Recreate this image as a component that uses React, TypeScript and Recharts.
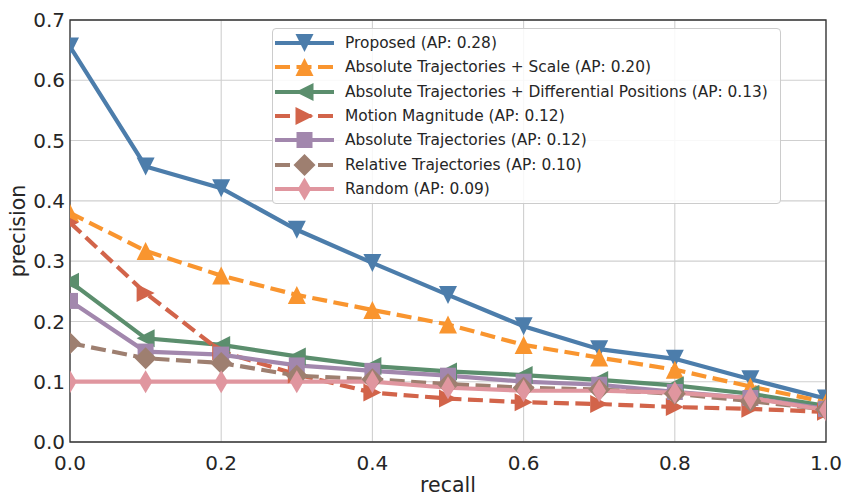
import React from 'react';
import { LineChart, Line, XAxis, YAxis, CartesianGrid, Legend, ReferenceArea } from 'recharts';

const FONT = '"DejaVu Sans", Verdana, sans-serif';

const recall = [0, 0.1, 0.2, 0.3, 0.4, 0.5, 0.6, 0.7, 0.8, 0.9, 1.0];
const proposed = [0.656, 0.457, 0.421, 0.352, 0.297, 0.244, 0.192, 0.154, 0.138, 0.104, 0.072];
const absScale = [0.38, 0.317, 0.276, 0.244, 0.219, 0.195, 0.161, 0.14, 0.12, 0.092, 0.066];
const absDiff = [0.266, 0.172, 0.161, 0.142, 0.126, 0.117, 0.111, 0.103, 0.094, 0.08, 0.06];
const motion = [0.364, 0.247, 0.15, 0.112, 0.082, 0.072, 0.066, 0.063, 0.058, 0.055, 0.05];
const absTraj = [0.234, 0.15, 0.145, 0.127, 0.118, 0.11, 0.1, 0.095, 0.083, 0.073, 0.055];
const relTraj = [0.164, 0.139, 0.131, 0.11, 0.104, 0.096, 0.09, 0.087, 0.08, 0.068, 0.054];
const random = [0.1, 0.1, 0.1, 0.1, 0.1, 0.09, 0.085, 0.085, 0.082, 0.073, 0.053];

const xTicks = [0, 0.2, 0.4, 0.6, 0.8, 1.0];
const yTicks = [0, 0.1, 0.2, 0.3, 0.4, 0.5, 0.6, 0.7];

type MarkerType = 'tdown' | 'tup' | 'tleft' | 'tright' | 'square' | 'diamond' | 'thin';

interface SeriesDef {
  key: string;
  name: string;
  values: number[];
  color: string;
  dash?: string;
  marker: MarkerType;
}

const DASH = '15 6.5';

const seriesDefs: SeriesDef[] = [
  { key: 'proposed', name: 'Proposed (AP: 0.28)', values: proposed, color: '#4c7dab', marker: 'tdown' },
  { key: 'absScale', name: 'Absolute Trajectories + Scale (AP: 0.20)', values: absScale, color: '#f9952f', dash: DASH, marker: 'tup' },
  { key: 'absDiff', name: 'Absolute Trajectories + Differential Positions (AP: 0.13)', values: absDiff, color: '#5b8e6d', marker: 'tleft' },
  { key: 'motion', name: 'Motion Magnitude (AP: 0.12)', values: motion, color: '#d2644a', dash: DASH, marker: 'tright' },
  { key: 'absTraj', name: 'Absolute Trajectories (AP: 0.12)', values: absTraj, color: '#a287ad', marker: 'square' },
  { key: 'relTraj', name: 'Relative Trajectories (AP: 0.10)', values: relTraj, color: '#9e7f70', dash: DASH, marker: 'diamond' },
  { key: 'random', name: 'Random (AP: 0.09)', values: random, color: '#e0969f', marker: 'thin' },
];

const data = recall.map((r, i) => {
  const row: Record<string, number> = { recall: r };
  seriesDefs.forEach((s) => {
    row[s.key] = s.values[i];
  });
  return row;
});

function markerPath(type: MarkerType, cx: number, cy: number): string {
  const s = 9;
  switch (type) {
    case 'tdown':
      return `M${cx - s},${cy - s}L${cx + s},${cy - s}L${cx},${cy + s}Z`;
    case 'tup':
      return `M${cx},${cy - s}L${cx + s},${cy + s}L${cx - s},${cy + s}Z`;
    case 'tleft':
      return `M${cx - s},${cy}L${cx + s},${cy - s}L${cx + s},${cy + s}Z`;
    case 'tright':
      return `M${cx + s},${cy}L${cx - s},${cy - s}L${cx - s},${cy + s}Z`;
    case 'square': {
      const h = 8;
      return `M${cx - h},${cy - h}L${cx + h},${cy - h}L${cx + h},${cy + h}L${cx - h},${cy + h}Z`;
    }
    case 'diamond': {
      const h = 11;
      return `M${cx},${cy - h}L${cx + h},${cy}L${cx},${cy + h}L${cx - h},${cy}Z`;
    }
    case 'thin':
    default: {
      const h = 11.5;
      const w = 6.8;
      return `M${cx},${cy - h}L${cx + w},${cy}L${cx},${cy + h}L${cx - w},${cy}Z`;
    }
  }
}

const LegendBox = () => (
  <div
    style={{
      border: '1px solid #cccccc',
      borderRadius: 4,
      background: 'rgba(255,255,255,0.85)',
      padding: '2px 6px 2px 2px',
      width: 509,
      boxSizing: 'border-box',
      fontFamily: FONT,
      fontSize: 15.4,
      color: '#262626',
    }}
  >
    {seriesDefs.map((s) => (
      <div key={s.key} style={{ display: 'flex', alignItems: 'center', height: 24.3 }}>
        <svg width={60} height={24} style={{ flex: 'none', display: 'block' }}>
          <line x1={0} x2={59} y1={12} y2={12} stroke={s.color} strokeWidth={4} strokeDasharray={s.dash} />
          <path d={markerPath(s.marker, 29.5, 12)} fill={s.color} />
        </svg>
        <span style={{ marginLeft: 10, whiteSpace: 'nowrap', lineHeight: '24px' }}>{s.name}</span>
      </div>
    ))}
  </div>
);

const YLabel = (props: any) => {
  const vb = props.viewBox || { x: 0, y: 20, width: 70, height: 422 };
  const x = vb.x + 25;
  const y = vb.y + vb.height / 2;
  return (
    <text
      x={x}
      y={y}
      transform={`rotate(-90 ${x} ${y})`}
      textAnchor="middle"
      fontFamily={FONT}
      fontSize={20.5}
      fill="#262626"
    >
      precision
    </text>
  );
};

export default function App() {
  return (
    <div style={{ position: 'absolute', left: 0, top: 0, width: 843, height: 496, background: '#ffffff' }}>
      <LineChart
        width={843}
        height={496}
        data={data}
        margin={{ top: 20, right: 17, bottom: 0, left: 0 }}
      >
        <CartesianGrid stroke="#cfcfcf" strokeWidth={1.1} horizontalValues={yTicks} verticalValues={xTicks} />
        <XAxis
          dataKey="recall"
          type="number"
          domain={[0, 1]}
          ticks={xTicks}
          allowDataOverflow
          height={54}
          tickSize={0}
          tickMargin={14}
          axisLine={false}
          tickFormatter={(v: number) => v.toFixed(1)}
          tick={{ fill: '#262626', fontSize: 20, fontFamily: FONT }}
          label={{ value: 'recall', position: 'insideBottom', offset: 4, fill: '#262626', fontSize: 20.5, fontFamily: FONT }}
        />
        <YAxis
          type="number"
          domain={[0, 0.7]}
          ticks={yTicks}
          allowDataOverflow
          width={70}
          tickSize={0}
          tickMargin={5}
          axisLine={false}
          tickFormatter={(v: number) => v.toFixed(1)}
          tick={{ fill: '#262626', fontSize: 20, fontFamily: FONT }}
          label={{ content: (p: any) => <YLabel {...p} /> }}
        />
        {seriesDefs.map((s) => (
          <Line
            key={s.key}
            dataKey={s.key}
            name={s.name}
            type="linear"
            stroke={s.color}
            strokeWidth={4.2}
            strokeDasharray={s.dash}
            isAnimationActive={false}
            activeDot={false}
            dot={(p: any) => (
              <path key={`${s.key}-${p.index}`} d={markerPath(s.marker, p.cx, p.cy)} fill={s.color} />
            )}
          />
        ))}
        <ReferenceArea x1={0} x2={1} y1={0} y2={0.7} fill="none" stroke="#333333" strokeWidth={1.3} ifOverflow="visible" />
        <Legend
          layout="vertical"
          align="center"
          verticalAlign="middle"
          wrapperStyle={{ left: 272, top: 28, width: 509 }}
          content={() => <LegendBox />}
        />
      </LineChart>
    </div>
  );
}
